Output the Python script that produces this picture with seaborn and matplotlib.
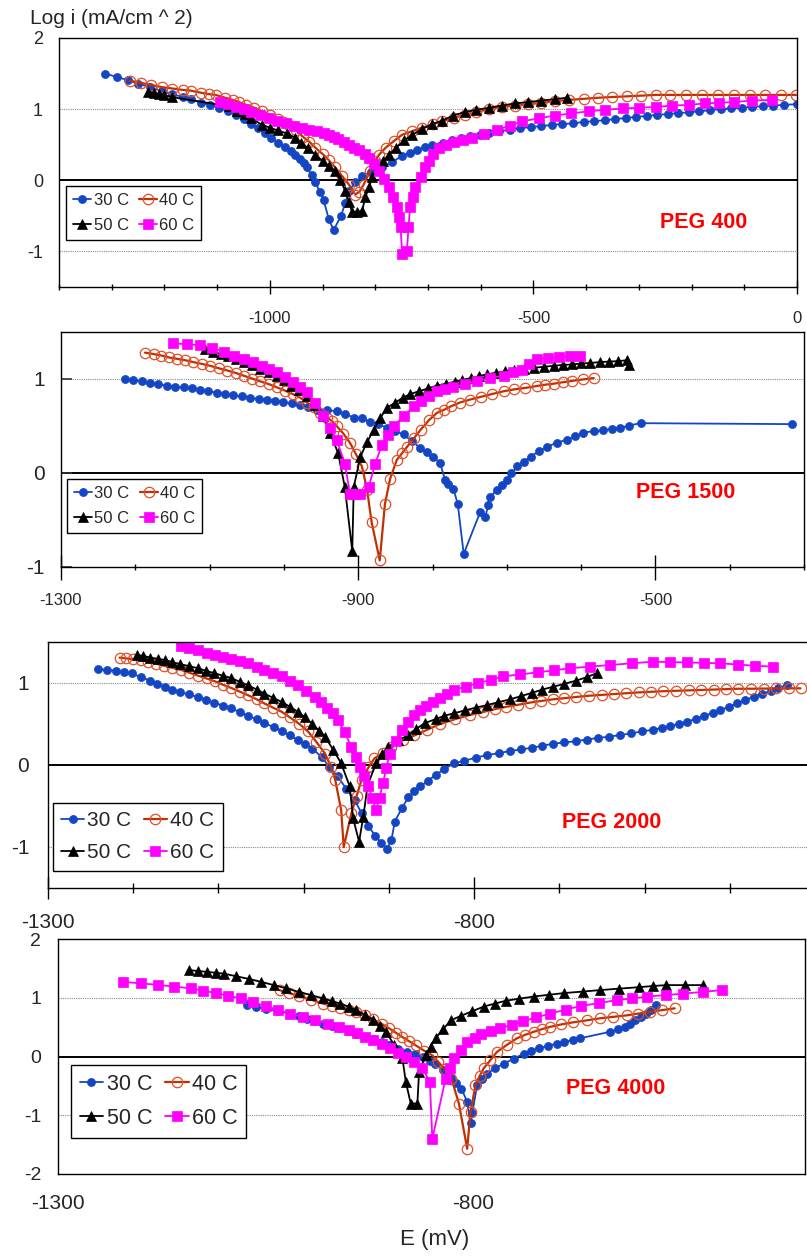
import matplotlib
matplotlib.use("Agg")
import matplotlib.pyplot as plt
from matplotlib.ticker import FixedLocator, MultipleLocator
import seaborn as sns

# ---------------------------------------------------------------------------
# Data: (E in mV, log i in mA/cm^2)
# ---------------------------------------------------------------------------
SERIES_LABELS = ["30 C", "40 C", "50 C", "60 C"]
PANEL_NAMES = ["PEG 400", "PEG 1500", "PEG 2000", "PEG 4000"]

PEG400_30C = [
    (-1312, 1.50), (-1290, 1.45), (-1270, 1.41), (-1250, 1.36), (-1228, 1.31), (-1205, 1.25),
    (-1185, 1.21), (-1165, 1.17), (-1150, 1.14), (-1130, 1.09), (-1113, 1.06), (-1097, 1.02),
    (-1080, 0.97), (-1065, 0.92), (-1050, 0.86), (-1035, 0.79), (-1022, 0.73), (-1010, 0.66),
    (-997, 0.60), (-985, 0.53), (-972, 0.47), (-960, 0.41), (-952, 0.36), (-943, 0.30),
    (-936, 0.24), (-930, 0.18), (-921, 0.08), (-914, -0.03), (-905, -0.16), (-898, -0.28),
    (-888, -0.55), (-879, -0.70), (-865, -0.50), (-857, -0.32), (-850, -0.15), (-838, -0.03),
    (-825, 0.06), (-808, 0.12), (-787, 0.18), (-768, 0.26), (-749, 0.34), (-735, 0.39),
    (-720, 0.43), (-705, 0.47), (-692, 0.50), (-672, 0.53), (-655, 0.56), (-638, 0.59),
    (-620, 0.62), (-602, 0.64), (-585, 0.67), (-565, 0.69), (-545, 0.71), (-525, 0.73),
    (-505, 0.75), (-485, 0.76), (-465, 0.78), (-445, 0.79), (-425, 0.80), (-405, 0.82),
    (-385, 0.83), (-365, 0.845), (-345, 0.86), (-325, 0.875), (-305, 0.89), (-285, 0.905),
    (-265, 0.92), (-245, 0.93), (-225, 0.945), (-205, 0.955), (-185, 0.97), (-165, 0.985),
    (-145, 1.00), (-125, 1.01), (-105, 1.02), (-85, 1.03), (-65, 1.04), (-45, 1.05),
    (-25, 1.06), (0, 1.07)]
PEG400_40C = [
    (-1265, 1.40), (-1245, 1.37), (-1225, 1.34), (-1205, 1.31), (-1185, 1.29), (-1165, 1.27),
    (-1150, 1.26), (-1130, 1.23), (-1115, 1.21), (-1103, 1.20), (-1085, 1.16), (-1070, 1.13),
    (-1059, 1.10), (-1045, 1.06), (-1030, 1.02), (-1015, 0.97), (-1000, 0.92), (-985, 0.86),
    (-975, 0.82), (-964, 0.78), (-950, 0.70), (-937, 0.61), (-925, 0.54), (-914, 0.46),
    (-900, 0.37), (-888, 0.28), (-876, 0.18), (-863, 0.06), (-850, -0.06), (-838, -0.20),
    (-830, -0.16), (-822, -0.06), (-810, 0.13), (-800, 0.27), (-793, 0.36), (-780, 0.46),
    (-765, 0.55), (-749, 0.64), (-730, 0.69), (-711, 0.74), (-690, 0.79), (-673, 0.83),
    (-650, 0.88), (-630, 0.92), (-608, 0.96), (-585, 1.00), (-560, 1.03), (-535, 1.05),
    (-510, 1.07), (-485, 1.09), (-460, 1.11), (-433, 1.13), (-405, 1.145), (-378, 1.16),
    (-350, 1.17), (-322, 1.18), (-295, 1.19), (-268, 1.20), (-240, 1.20), (-210, 1.20),
    (-180, 1.20), (-150, 1.20), (-120, 1.20), (-90, 1.20), (-60, 1.20), (-30, 1.20),
    (-2, 1.20)]
PEG400_50C = [
    (-1232, 1.24), (-1220, 1.23), (-1210, 1.21), (-1200, 1.20), (-1186, 1.17), (-1078, 1.04),
    (-1062, 0.98), (-1048, 0.93), (-1035, 0.87), (-1015, 0.78), (-1000, 0.74), (-985, 0.70),
    (-968, 0.66), (-952, 0.60), (-940, 0.52), (-927, 0.45), (-914, 0.36), (-900, 0.27),
    (-888, 0.20), (-876, 0.13), (-866, 0.00), (-857, -0.15), (-850, -0.30), (-844, -0.45),
    (-835, -0.44), (-825, -0.43), (-819, -0.24), (-812, -0.10), (-806, 0.04), (-795, 0.16),
    (-785, 0.27), (-774, 0.36), (-760, 0.46), (-745, 0.56), (-730, 0.64), (-711, 0.72),
    (-692, 0.79), (-673, 0.84), (-652, 0.91), (-630, 0.96), (-608, 0.99), (-585, 1.02),
    (-560, 1.05), (-535, 1.08), (-510, 1.10), (-485, 1.12), (-460, 1.14), (-436, 1.16)]
PEG400_60C = [
    (-1095, 1.10), (-1080, 1.07), (-1065, 1.03), (-1050, 1.00), (-1035, 0.96), (-1018, 0.92),
    (-1002, 0.88), (-986, 0.84), (-970, 0.80), (-955, 0.77), (-939, 0.74), (-925, 0.71),
    (-910, 0.69), (-898, 0.66), (-888, 0.64), (-878, 0.61), (-870, 0.58), (-860, 0.54),
    (-850, 0.50), (-840, 0.46), (-830, 0.42), (-820, 0.37), (-812, 0.32), (-803, 0.23),
    (-793, 0.13), (-783, 0.02), (-774, -0.10), (-766, -0.24), (-759, -0.38), (-755, -0.52),
    (-752, -0.66), (-749, -1.04), (-740, -0.99), (-737, -0.66), (-734, -0.38), (-729, -0.24),
    (-724, -0.10), (-714, 0.05), (-705, 0.18), (-699, 0.27), (-690, 0.37), (-680, 0.46),
    (-665, 0.50), (-650, 0.54), (-633, 0.57), (-616, 0.60), (-593, 0.65), (-570, 0.70),
    (-545, 0.77), (-521, 0.83), (-490, 0.87), (-460, 0.91), (-428, 0.94), (-395, 0.97),
    (-365, 0.99), (-330, 1.01), (-300, 1.02), (-268, 1.03), (-237, 1.05), (-205, 1.06),
    (-175, 1.08), (-148, 1.09), (-120, 1.10), (-85, 1.12), (-47, 1.13)]

PEG1500_30C = [
    (-1214, 1.00), (-1203, 0.985), (-1191, 0.975), (-1180, 0.96), (-1169, 0.945), (-1158, 0.93),
    (-1147, 0.92), (-1135, 0.91), (-1124, 0.90), (-1113, 0.885), (-1102, 0.87), (-1090, 0.855),
    (-1079, 0.84), (-1068, 0.83), (-1057, 0.815), (-1046, 0.80), (-1034, 0.79), (-1023, 0.78),
    (-1012, 0.77), (-1001, 0.755), (-989, 0.74), (-978, 0.725), (-967, 0.70), (-956, 0.67),
    (-942, 0.665), (-929, 0.66), (-918, 0.63), (-906, 0.59), (-895, 0.585), (-884, 0.54),
    (-873, 0.52), (-861, 0.48), (-850, 0.445), (-839, 0.41), (-828, 0.34), (-817, 0.27),
    (-808, 0.22), (-799, 0.17), (-790, 0.11), (-783, -0.075), (-779, -0.12), (-772, -0.165),
    (-766, -0.33), (-758, -0.86), (-736, -0.42), (-729, -0.47), (-725, -0.34), (-722, -0.25),
    (-713, -0.18), (-706, -0.13), (-700, -0.075), (-694, -0.005), (-686, 0.07), (-677, 0.12),
    (-668, 0.175), (-657, 0.23), (-646, 0.28), (-633, 0.32), (-619, 0.355), (-608, 0.39),
    (-597, 0.43), (-583, 0.445), (-570, 0.455), (-559, 0.47), (-547, 0.48), (-536, 0.505),
    (-520, 0.53), (-316, 0.52)]
PEG1500_40C = [
    (-1187, 1.28), (-1175, 1.265), (-1165, 1.25), (-1155, 1.23), (-1144, 1.215), (-1133, 1.20),
    (-1122, 1.18), (-1110, 1.16), (-1099, 1.14), (-1088, 1.115), (-1076, 1.09), (-1065, 1.065),
    (-1054, 1.035), (-1043, 1.005), (-1032, 0.975), (-1020, 0.945), (-1009, 0.91), (-998, 0.875),
    (-988, 0.84), (-978, 0.80), (-969, 0.75), (-960, 0.70), (-951, 0.64), (-942, 0.59),
    (-935, 0.55), (-929, 0.50), (-920, 0.42), (-911, 0.32), (-903, 0.20), (-895, 0.07),
    (-888, -0.18), (-882, -0.52), (-871, -0.93), (-864, -0.33), (-857, -0.06), (-848, 0.14),
    (-841, 0.21), (-834, 0.28), (-825, 0.37), (-816, 0.46), (-805, 0.56), (-794, 0.64),
    (-785, 0.67), (-775, 0.71), (-763, 0.75), (-750, 0.78), (-735, 0.81), (-720, 0.84),
    (-704, 0.87), (-690, 0.89), (-675, 0.905), (-660, 0.925), (-648, 0.94), (-637, 0.95),
    (-625, 0.965), (-612, 0.98), (-598, 0.995), (-583, 1.01)]
PEG1500_50C = [
    (-1106, 1.32), (-1095, 1.29), (-1085, 1.265), (-1075, 1.24), (-1065, 1.21), (-1054, 1.18),
    (-1043, 1.145), (-1032, 1.11), (-1020, 1.07), (-1009, 1.035), (-1000, 0.99), (-990, 0.93),
    (-980, 0.88), (-969, 0.82), (-958, 0.72), (-947, 0.605), (-938, 0.43), (-927, 0.21),
    (-918, -0.15), (-908, -0.83), (-906, -0.15), (-897, 0.175), (-888, 0.33), (-879, 0.46),
    (-870, 0.59), (-861, 0.695), (-850, 0.75), (-840, 0.80), (-830, 0.84), (-818, 0.87),
    (-806, 0.90), (-794, 0.93), (-782, 0.95), (-770, 0.97), (-760, 0.99), (-748, 1.01),
    (-737, 1.03), (-727, 1.05), (-715, 1.065), (-703, 1.08), (-690, 1.10), (-677, 1.11),
    (-663, 1.12), (-650, 1.13), (-637, 1.14), (-625, 1.15), (-612, 1.155), (-600, 1.165),
    (-588, 1.17), (-575, 1.18), (-563, 1.185), (-550, 1.19), (-538, 1.20), (-535, 1.15)]
PEG1500_60C = [
    (-1149, 1.38), (-1131, 1.37), (-1113, 1.36), (-1097, 1.33), (-1080, 1.29), (-1067, 1.25),
    (-1054, 1.215), (-1042, 1.18), (-1030, 1.14), (-1020, 1.105), (-1009, 1.07), (-998, 1.02),
    (-988, 0.97), (-978, 0.91), (-969, 0.86), (-958, 0.75), (-947, 0.605), (-938, 0.48),
    (-929, 0.355), (-918, 0.10), (-911, -0.22), (-904, -0.22), (-897, -0.22), (-886, -0.15),
    (-877, 0.10), (-868, 0.30), (-860, 0.40), (-852, 0.50), (-838, 0.61), (-825, 0.71),
    (-816, 0.77), (-805, 0.82), (-794, 0.87), (-783, 0.89), (-772, 0.91), (-756, 0.945),
    (-740, 0.98), (-722, 1.01), (-704, 1.035), (-692, 1.07), (-680, 1.10), (-670, 1.16),
    (-660, 1.215), (-645, 1.225), (-630, 1.23), (-615, 1.24), (-601, 1.245)]

PEG2000_30C = [
    (-1241, 1.17), (-1231, 1.16), (-1220, 1.15), (-1211, 1.14), (-1202, 1.12), (-1191, 1.07),
    (-1180, 1.03), (-1172, 0.99), (-1163, 0.955), (-1154, 0.92), (-1145, 0.89), (-1135, 0.86),
    (-1124, 0.83), (-1115, 0.795), (-1105, 0.76), (-1095, 0.725), (-1085, 0.69), (-1075, 0.645),
    (-1065, 0.60), (-1055, 0.555), (-1046, 0.51), (-1035, 0.46), (-1025, 0.41), (-1016, 0.36),
    (-1007, 0.305), (-998, 0.25), (-990, 0.20), (-979, 0.10), (-970, -0.02), (-960, -0.14),
    (-950, -0.29), (-940, -0.43), (-932, -0.59), (-924, -0.75), (-916, -0.86), (-909, -0.955),
    (-902, -1.02), (-897, -0.91), (-893, -0.69), (-885, -0.53), (-877, -0.39), (-870, -0.32),
    (-863, -0.26), (-854, -0.19), (-845, -0.12), (-835, -0.05), (-824, 0.02), (-812, 0.05),
    (-798, 0.09), (-785, 0.12), (-771, 0.145), (-758, 0.17), (-745, 0.19), (-732, 0.21),
    (-720, 0.235), (-707, 0.26), (-694, 0.275), (-681, 0.29), (-668, 0.31), (-655, 0.33),
    (-642, 0.345), (-629, 0.365), (-616, 0.385), (-603, 0.41), (-590, 0.43), (-580, 0.45),
    (-570, 0.47), (-560, 0.50), (-550, 0.53), (-540, 0.56), (-530, 0.60), (-520, 0.635),
    (-511, 0.67), (-501, 0.71), (-491, 0.75), (-482, 0.79), (-472, 0.83), (-462, 0.87),
    (-452, 0.90), (-443, 0.94), (-433, 0.975)]
PEG2000_40C = [
    (-1216, 1.31), (-1208, 1.30), (-1200, 1.29), (-1191, 1.28), (-1183, 1.26), (-1173, 1.235),
    (-1164, 1.21), (-1154, 1.185), (-1144, 1.16), (-1134, 1.125), (-1124, 1.09), (-1114, 1.055),
    (-1104, 1.02), (-1095, 0.98), (-1085, 0.94), (-1075, 0.895), (-1065, 0.85), (-1055, 0.80),
    (-1046, 0.75), (-1036, 0.70), (-1026, 0.65), (-1016, 0.58), (-1005, 0.50), (-995, 0.41),
    (-985, 0.28), (-975, 0.14), (-968, -0.02), (-963, -0.18), (-956, -0.55), (-953, -1.00),
    (-944, -0.59), (-938, -0.38), (-932, -0.18), (-924, -0.03), (-917, 0.08), (-907, 0.15),
    (-897, 0.22), (-884, 0.30), (-870, 0.36), (-855, 0.43), (-840, 0.50), (-822, 0.56),
    (-805, 0.61), (-790, 0.645), (-776, 0.68), (-762, 0.71), (-748, 0.735), (-735, 0.76),
    (-722, 0.78), (-708, 0.80), (-694, 0.815), (-680, 0.83), (-665, 0.845), (-650, 0.855),
    (-636, 0.865), (-622, 0.875), (-607, 0.885), (-592, 0.893), (-578, 0.90), (-563, 0.905),
    (-548, 0.91), (-534, 0.915), (-519, 0.92), (-505, 0.925), (-490, 0.93), (-475, 0.93),
    (-460, 0.932), (-446, 0.933), (-431, 0.935), (-417, 0.935)]
PEG2000_50C = [
    (-1196, 1.34), (-1188, 1.33), (-1180, 1.31), (-1171, 1.295), (-1163, 1.28), (-1154, 1.255),
    (-1145, 1.23), (-1134, 1.205), (-1124, 1.18), (-1115, 1.15), (-1105, 1.12), (-1095, 1.09),
    (-1085, 1.06), (-1075, 1.015), (-1065, 0.97), (-1055, 0.92), (-1046, 0.87), (-1036, 0.82),
    (-1026, 0.77), (-1016, 0.71), (-1007, 0.65), (-998, 0.58), (-990, 0.50), (-982, 0.42),
    (-975, 0.345), (-965, 0.18), (-956, 0.02), (-946, -0.26), (-942, -0.65), (-935, -0.935),
    (-930, -0.63), (-925, -0.245), (-915, 0.02), (-908, 0.13), (-901, 0.22), (-889, 0.30),
    (-877, 0.365), (-868, 0.44), (-858, 0.51), (-845, 0.56), (-835, 0.60), (-824, 0.63),
    (-811, 0.665), (-798, 0.70), (-785, 0.73), (-772, 0.765), (-758, 0.80), (-745, 0.84),
    (-732, 0.88), (-720, 0.92), (-707, 0.955), (-694, 0.99), (-680, 1.03), (-668, 1.07),
    (-656, 1.12)]
PEG2000_60C = [
    (-1144, 1.45), (-1134, 1.425), (-1124, 1.40), (-1114, 1.37), (-1104, 1.34), (-1095, 1.315),
    (-1085, 1.29), (-1075, 1.265), (-1065, 1.24), (-1055, 1.20), (-1046, 1.16), (-1036, 1.12),
    (-1026, 1.08), (-1016, 1.025), (-1007, 0.97), (-997, 0.90), (-987, 0.83), (-980, 0.77),
    (-973, 0.70), (-966, 0.63), (-960, 0.55), (-952, 0.40), (-944, 0.22), (-939, 0.10),
    (-934, -0.02), (-929, -0.14), (-924, -0.26), (-920, -0.40), (-915, -0.55), (-911, -0.40),
    (-907, -0.22), (-903, -0.04), (-899, 0.14), (-892, 0.29), (-885, 0.43), (-877, 0.53),
    (-870, 0.61), (-863, 0.67), (-856, 0.72), (-848, 0.77), (-840, 0.82), (-832, 0.87),
    (-824, 0.915), (-810, 0.955), (-795, 1.00), (-780, 1.04), (-766, 1.08), (-746, 1.105),
    (-725, 1.13), (-706, 1.155), (-687, 1.18), (-664, 1.20), (-640, 1.22), (-615, 1.24),
    (-590, 1.26), (-570, 1.255), (-550, 1.25), (-530, 1.245), (-511, 1.24), (-490, 1.225),
    (-470, 1.21), (-449, 1.20)]

PEG4000_30C = [
    (-1072, 0.885), (-1061, 0.845), (-1050, 0.81), (-1035, 0.77), (-1021, 0.73), (-1010, 0.685),
    (-1000, 0.64), (-990, 0.60), (-981, 0.56), (-970, 0.52), (-960, 0.48), (-950, 0.435),
    (-941, 0.39), (-930, 0.34), (-920, 0.29), (-910, 0.24), (-901, 0.19), (-890, 0.135),
    (-880, 0.08), (-870, 0.04), (-860, -0.01), (-852, -0.07), (-846, -0.12), (-836, -0.23),
    (-826, -0.35), (-820, -0.45), (-814, -0.545), (-807, -0.77), (-803, -1.14), (-801, -0.97),
    (-795, -0.49), (-789, -0.38), (-783, -0.29), (-773, -0.20), (-763, -0.12), (-751, -0.04),
    (-739, 0.05), (-730, 0.10), (-720, 0.14), (-710, 0.18), (-699, 0.22), (-690, 0.25),
    (-680, 0.28), (-671, 0.31), (-635, 0.42), (-625, 0.46), (-617, 0.51), (-611, 0.56),
    (-605, 0.62), (-598, 0.67), (-591, 0.73), (-585, 0.80), (-579, 0.875)]
PEG4000_40C = [
    (-1033, 1.13), (-1022, 1.08), (-1010, 1.03), (-995, 0.965), (-981, 0.90), (-970, 0.865),
    (-960, 0.83), (-950, 0.795), (-941, 0.76), (-930, 0.70), (-920, 0.63), (-910, 0.555),
    (-901, 0.48), (-893, 0.405), (-885, 0.33), (-877, 0.26), (-869, 0.19), (-859, 0.10),
    (-849, 0.02), (-842, -0.09), (-834, -0.22), (-826, -0.375), (-817, -0.80), (-807, -1.57),
    (-803, -0.94), (-797, -0.49), (-792, -0.33), (-787, -0.20), (-779, -0.06), (-771, 0.08),
    (-759, 0.20), (-747, 0.31), (-737, 0.37), (-727, 0.42), (-717, 0.465), (-707, 0.505),
    (-694, 0.545), (-680, 0.58), (-663, 0.615), (-647, 0.65), (-631, 0.675), (-615, 0.70),
    (-601, 0.73), (-587, 0.76), (-572, 0.79), (-557, 0.82)]
PEG4000_50C = [
    (-1142, 1.47), (-1131, 1.455), (-1120, 1.44), (-1110, 1.425), (-1100, 1.41), (-1085, 1.365),
    (-1070, 1.32), (-1055, 1.27), (-1040, 1.215), (-1025, 1.16), (-1010, 1.10), (-995, 1.045),
    (-981, 0.99), (-970, 0.945), (-960, 0.90), (-950, 0.85), (-941, 0.79), (-930, 0.71),
    (-920, 0.62), (-912, 0.52), (-905, 0.42), (-895, 0.20), (-885, -0.03), (-881, -0.43),
    (-875, -0.80), (-867, -0.80), (-865, -0.26), (-857, 0.02), (-851, 0.17), (-845, 0.31),
    (-836, 0.47), (-826, 0.62), (-815, 0.69), (-801, 0.77), (-787, 0.85), (-774, 0.90),
    (-760, 0.95), (-744, 0.985), (-727, 1.02), (-709, 1.05), (-690, 1.08), (-668, 1.105),
    (-647, 1.13), (-624, 1.155), (-600, 1.18), (-583, 1.20), (-567, 1.215), (-545, 1.215),
    (-523, 1.215)]
PEG4000_60C = [
    (-1222, 1.27), (-1200, 1.245), (-1180, 1.22), (-1160, 1.19), (-1140, 1.16), (-1125, 1.12),
    (-1110, 1.08), (-1095, 1.035), (-1080, 0.99), (-1065, 0.925), (-1050, 0.86), (-1035, 0.795),
    (-1021, 0.73), (-1005, 0.675), (-990, 0.62), (-975, 0.56), (-961, 0.505), (-950, 0.455),
    (-940, 0.40), (-930, 0.34), (-921, 0.28), (-910, 0.21), (-900, 0.14), (-890, 0.065),
    (-881, -0.01), (-871, -0.10), (-861, -0.20), (-852, -0.43), (-849, -1.40), (-833, -0.375),
    (-828, -0.20), (-823, -0.03), (-815, 0.11), (-807, 0.25), (-798, 0.32), (-790, 0.38),
    (-778, 0.43), (-767, 0.48), (-753, 0.54), (-740, 0.60), (-724, 0.665), (-707, 0.73),
    (-688, 0.80), (-670, 0.86), (-648, 0.91), (-627, 0.96), (-608, 0.99), (-590, 1.02),
    (-568, 1.045), (-547, 1.07), (-523, 1.10), (-500, 1.13)]

PANEL_DATA = [
    [PEG400_30C, PEG400_40C, PEG400_50C, PEG400_60C],
    [PEG1500_30C, PEG1500_40C, PEG1500_50C, PEG1500_60C],
    [PEG2000_30C, PEG2000_40C, PEG2000_50C, PEG2000_60C],
    [PEG4000_30C, PEG4000_40C, PEG4000_50C, PEG4000_60C],
]

# ---------------------------------------------------------------------------
# Styling / layout
# ---------------------------------------------------------------------------
W, H = 807, 1256

STYLES = [
    dict(color="#1446c4", marker="o", markersize=5.8, markerfacecolor="#1446c4",
         markeredgecolor="#1446c4", markeredgewidth=0.5, linewidth=1.3),
    dict(color="#c03000", marker="o", markersize=7.5, markerfacecolor="none",
         markeredgecolor="#e0502a", markeredgewidth=0.9, linewidth=1.6),
    dict(color="black", marker="^", markersize=7.5, markerfacecolor="black",
         markeredgecolor="black", markeredgewidth=0.5, linewidth=1.3),
    dict(color="#ff00ff", marker="s", markersize=7.5, markerfacecolor="#ff00ff",
         markeredgecolor="#ff00ff", markeredgewidth=0.5, linewidth=1.3),
]

# pixel boxes (left, top, right, bottom) and per-panel axis setup
LAYOUT = [
    dict(box=(59, 38, 797, 287), xlim=(-1400, 0), ylim=(-1.5, 2), yticks=[-1, 0, 1, 2],
         xmajor=[-1000, -500, 0], xminor=100, grid=[-1, 1],
         xfs=12, yfs=13, ypad=11.5, xmaj_len=10, xmin_len=4.5, xpad=12, ytick_len=0,
         leg=(66, 186), legfs=12, peg=(704, 222)),
    dict(box=(61, 332, 804, 567), xlim=(-1300, -300), ylim=(-1, 1.5), yticks=[-1, 0, 1],
         xmajor=[-1300, -900, -500], xminor=100, grid=[1],
         xfs=12, yfs=15, ypad=11.5, xmaj_len=18, xmin_len=5, xpad=9.5, ytick_len=8,
         leg=(67, 479), legfs=12, peg=(686, 493)),
    dict(box=(48, 642, 815, 888), xlim=(-1300, -400), ylim=(-1.5, 1.5), yticks=[-1, 0, 1],
         xmajor=[-1300, -800], xminor=100, grid=[-1, 1],
         xfs=15, yfs=15, ypad=13.5, xmaj_len=16.5, xmin_len=7, xpad=10, ytick_len=0,
         leg=(53, 803), legfs=15, peg=(612, 822)),
    dict(box=(58, 939, 805, 1174), xlim=(-1300, -400), ylim=(-2, 2), yticks=[-2, -1, 0, 1, 2],
         xmajor=[-1300, -800], xminor=None, grid=[-1, 1],
         xfs=15, yfs=14, ypad=12, xmaj_len=0, xmin_len=0, xpad=14.5, ytick_len=0,
         leg=(71, 1065), legfs=15.5, peg=(616, 1088)),
]

sns.set_theme(style="white")
plt.rcParams["font.family"] = ["Liberation Sans", "DejaVu Sans"]
plt.rcParams["axes.edgecolor"] = "black"
plt.rcParams["axes.linewidth"] = 1.0

fig = plt.figure(figsize=(W / 100, H / 100), dpi=100)

for name, series_list, lay in zip(PANEL_NAMES, PANEL_DATA, LAYOUT):
    l, t, r, b = lay["box"]
    ax = fig.add_axes([l / W, 1 - b / H, (r - l) / W, (b - t) / H])

    for g in lay["grid"]:
        ax.axhline(g, color="#8a8a8a", lw=0.8, ls=(0, (1, 1)), zorder=0)
    ax.axhline(0, color="black", lw=1.4, zorder=0.5)

    for pts, style, lab in zip(series_list, STYLES, SERIES_LABELS):
        e = [p[0] for p in pts]
        v = [p[1] for p in pts]
        sns.lineplot(x=e, y=v, ax=ax, sort=False, estimator=None, label=lab, **style)

    ax.set_xlim(*lay["xlim"])
    ax.set_ylim(*lay["ylim"])
    ax.set_xlabel("")
    ax.set_ylabel("")
    ax.set_yticks(lay["yticks"])
    ax.set_yticklabels([f"{v:g}" for v in lay["yticks"]])
    ax.xaxis.set_major_locator(FixedLocator(lay["xmajor"]))
    ax.set_xticklabels([f"{v:g}" for v in lay["xmajor"]])
    if lay["xminor"]:
        ax.xaxis.set_minor_locator(MultipleLocator(lay["xminor"]))
    ax.tick_params(axis="x", which="major", direction="inout", length=lay["xmaj_len"],
                   width=1, color="black", labelsize=lay["xfs"], pad=lay["xpad"], bottom=True)
    ax.tick_params(axis="x", which="minor", direction="inout", length=lay["xmin_len"],
                   width=1, color="black", bottom=True)
    ax.tick_params(axis="y", which="major", direction="in", length=lay["ytick_len"],
                   width=1.2, color="#333333", labelsize=lay["yfs"], pad=lay["ypad"], left=True)
    for sp in ax.spines.values():
        sp.set_visible(True)
        sp.set_color("black")
        sp.set_linewidth(1.0)

    handles, labels = ax.get_legend_handles_labels()
    order = [0, 2, 1, 3]
    lx, ly = lay["leg"]
    ax.legend([handles[i] for i in order], [labels[i] for i in order], ncol=2,
              loc="upper left", bbox_to_anchor=(lx / W, 1 - ly / H),
              bbox_transform=fig.transFigure, borderaxespad=0, fontsize=lay["legfs"],
              frameon=True, fancybox=False, framealpha=1, edgecolor="black",
              borderpad=0.4, handlelength=1.1, handletextpad=0.15, columnspacing=0.6,
              labelspacing=0.62, numpoints=1)
    ax.get_legend().get_frame().set_linewidth(1.0)

    px, py = lay["peg"]
    fig.text(px / W, 1 - py / H, name, color="#ff0000", fontsize=15.5,
             fontweight="bold", ha="center", va="center")

fig.text(30 / W, 1 - 18 / H, "Log i (mA/cm ^ 2)", fontsize=15, ha="left", va="center")
fig.text(435 / W, 1 - 1240 / H, "E (mV)", fontsize=16, ha="center", va="center")

fig.savefig("out.png", dpi=100)
